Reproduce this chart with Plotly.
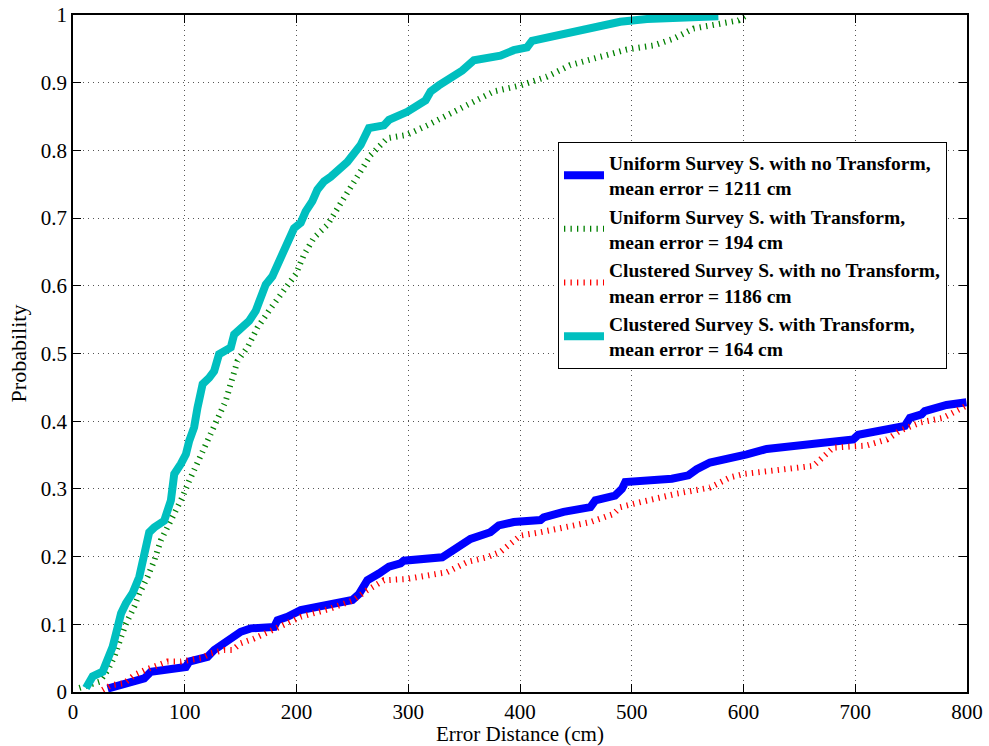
import plotly.graph_objects as go

# Uniform Survey S. with no Transform
uni_nt_x = [31, 48.9, 63.7, 69.7, 84.6, 101, 104, 120.4, 126.3, 135.2, 142.7, 150.1, 159, 180, 183, 191.9,
            203.8, 215, 230, 250, 256, 263.4, 273.7, 282.7, 293.1, 296, 330.4, 334.8, 346.7, 355.7, 373.5,
            381, 394.4, 418.3, 421.2, 439, 463, 467.4, 485, 491.2, 494.2, 535.9, 550.7, 558.2, 570, 588,
            603, 620.8, 680.4, 698.2, 702.7, 722, 744.4, 748.9, 759.3, 762.3, 781.7, 799.5]
uni_nt_y = [0.005, 0.013, 0.020, 0.030, 0.032, 0.037, 0.045, 0.052, 0.062, 0.072, 0.079, 0.089, 0.094,
            0.096, 0.106, 0.111, 0.121, 0.125, 0.130, 0.136, 0.145, 0.165, 0.175, 0.185, 0.190, 0.194,
            0.199, 0.204, 0.214, 0.226, 0.236, 0.246, 0.251, 0.254, 0.258, 0.266, 0.273, 0.283, 0.290,
            0.300, 0.310, 0.315, 0.320, 0.329, 0.339, 0.344, 0.351, 0.359, 0.369, 0.373, 0.380, 0.386,
            0.393, 0.405, 0.410, 0.415, 0.424, 0.428]

# Uniform Survey S. with Transform
uni_t_x = [5.7, 23.5, 31, 37, 43, 47.4, 54.8, 59.3, 66.7, 72.7, 78.6, 84.6, 90.6, 98, 104, 111.4, 117.4,
           123.3, 130.7, 136.7, 140.5, 147.2, 156.1, 165, 177, 188.8, 199.3, 206.7, 215.6, 227.6, 245,
           266.3, 281.2, 299, 317, 334.8, 352.7, 376.5, 400.4, 424.2, 445, 468.9, 495.6, 519.5, 537.4,
           555.2, 579, 595.4, 603]
uni_t_y = [0.006, 0.015, 0.032, 0.052, 0.081, 0.101, 0.126, 0.145, 0.170, 0.194, 0.224, 0.243, 0.263,
           0.288, 0.312, 0.339, 0.361, 0.386, 0.410, 0.430, 0.452, 0.489, 0.509, 0.538, 0.567, 0.592,
           0.617, 0.646, 0.671, 0.690, 0.735, 0.793, 0.818, 0.823, 0.837, 0.852, 0.867, 0.887, 0.896,
           0.909, 0.926, 0.936, 0.949, 0.955, 0.965, 0.980, 0.988, 0.992, 1.0]

# Clustered Survey S. with no Transform
clu_nt_x = [26.5, 34, 45.8, 54.8, 63.7, 72.7, 84.6, 96.5, 105.5, 114.4, 123.3, 135.2, 142.7, 150.1, 162,
            171, 183, 194.8, 203.8, 230, 250, 263, 278.2, 299, 320, 334.8, 340.7, 352.7, 370.6, 382.5,
            391.4, 400.4, 418.3, 439, 463, 483.7, 489.7, 501.6, 540.4, 570, 588, 600, 662.5, 680.4, 710,
            728.4, 740, 758, 778.7, 799.5]
clu_nt_y = [0.003, 0.010, 0.013, 0.025, 0.032, 0.037, 0.045, 0.045, 0.047, 0.050, 0.057, 0.062, 0.062,
            0.072, 0.079, 0.086, 0.096, 0.104, 0.111, 0.123, 0.135, 0.150, 0.165, 0.167, 0.172, 0.177,
            0.182, 0.192, 0.199, 0.207, 0.219, 0.231, 0.236, 0.243, 0.251, 0.263, 0.273, 0.278, 0.293,
            0.302, 0.317, 0.322, 0.334, 0.361, 0.364, 0.373, 0.386, 0.398, 0.405, 0.423]

# Clustered Survey S. with Transform
clu_t_x = [11.6, 17.6, 26.5, 31, 35.5, 40, 43, 47.4, 53.3, 59.3, 62.3, 68.2, 72.7, 81.6, 87.6, 90.6, 96.5,
           101, 104, 108.4, 111.4, 116, 121.8, 126.3, 130.7, 136.7, 141.2, 144.2, 151.6, 157.6, 163.5,
           169.5, 172.5, 178.4, 182.9, 187.4, 191.9, 197.8, 203.8, 208.2, 214.2, 218.7, 224.6, 230.6,
           245.5, 257.4, 264.8, 278.2, 282.7, 299.1, 315.5, 320, 327.4, 336.3, 348.3, 358.7, 382.5,
           394.4, 406.3, 410.8, 427.2, 451, 468.8, 489.7, 513.6, 543.3, 577.5]
clu_t_y = [0.006, 0.023, 0.030, 0.047, 0.067, 0.096, 0.116, 0.131, 0.146, 0.170, 0.194, 0.236, 0.243,
           0.253, 0.283, 0.322, 0.337, 0.351, 0.371, 0.391, 0.420, 0.455, 0.464, 0.474, 0.499, 0.504,
           0.509, 0.528, 0.538, 0.548, 0.563, 0.587, 0.602, 0.614, 0.631, 0.651, 0.668, 0.685, 0.693,
           0.710, 0.725, 0.742, 0.754, 0.761, 0.783, 0.808, 0.833, 0.837, 0.845, 0.857, 0.874, 0.887,
           0.896, 0.904, 0.918, 0.933, 0.940, 0.948, 0.952, 0.962, 0.968, 0.976, 0.985, 0.990, 0.994,
           0.995, 0.998]

names = [
    "Uniform Survey S. with no Transform,<br>mean error = 1211 cm",
    "Uniform Survey S. with Transform,<br>mean error = 194 cm",
    "Clustered Survey S. with no Transform,<br>mean error = 1186 cm",
    "Clustered Survey S. with Transform,<br>mean error = 164 cm",
]

x_ticks = [0, 100, 200, 300, 400, 500, 600, 700, 800]
y_ticks = [0, 0.1, 0.2, 0.3, 0.4, 0.5, 0.6, 0.7, 0.8, 0.9, 1]
y_labels = ["0", "0.1", "0.2", "0.3", "0.4", "0.5", "0.6", "0.7", "0.8", "0.9", "1"]

FONT = "Liberation Serif, Times New Roman, serif"

fig = go.Figure()
fig.add_trace(go.Scatter(x=uni_nt_x, y=uni_nt_y, mode="lines", name=names[0],
                         line=dict(color="#0000FF", width=8)))
fig.add_trace(go.Scatter(x=uni_t_x, y=uni_t_y, mode="lines", name=names[1],
                         line=dict(color="#008000", width=6, dash="1.3px,5.2px")))
fig.add_trace(go.Scatter(x=clu_nt_x, y=clu_nt_y, mode="lines", name=names[2],
                         line=dict(color="#FF0000", width=6, dash="1.3px,5.2px")))
fig.add_trace(go.Scatter(x=clu_t_x, y=clu_t_y, mode="lines", name=names[3],
                         line=dict(color="#00BFBF", width=8)))

axis_common = dict(
    showline=True, linecolor="black", linewidth=1.5, mirror="ticks",
    ticks="inside", ticklen=8, tickwidth=1, tickcolor="black",
    showgrid=True, gridcolor="#555555", gridwidth=1, griddash="1px,4px",
    zeroline=False, automargin=False,
    tickfont=dict(family=FONT, size=21, color="black"),
)

fig.update_xaxes(range=[0, 800], tickvals=x_ticks, ticktext=[str(v) for v in x_ticks],
                 title=dict(text="Error Distance (cm)", font=dict(family=FONT, size=21, color="black"),
                            standoff=6),
                 **axis_common)
fig.update_yaxes(range=[0, 1], tickvals=y_ticks, ticktext=y_labels,
                 title=dict(text="Probability", font=dict(family=FONT, size=22, color="black"),
                            standoff=8),
                 **axis_common)

fig.update_layout(
    width=989, height=746,
    margin=dict(l=73, r=22, t=15, b=54),
    paper_bgcolor="white", plot_bgcolor="white",
    showlegend=True,
    legend=dict(x=0.5425, y=0.812, xanchor="left", yanchor="top",
                bgcolor="white", bordercolor="black", borderwidth=1,
                font=dict(family=FONT, size=19.5, color="black", weight="bold"),
                itemwidth=40),
)

fig.write_html("out.html")
